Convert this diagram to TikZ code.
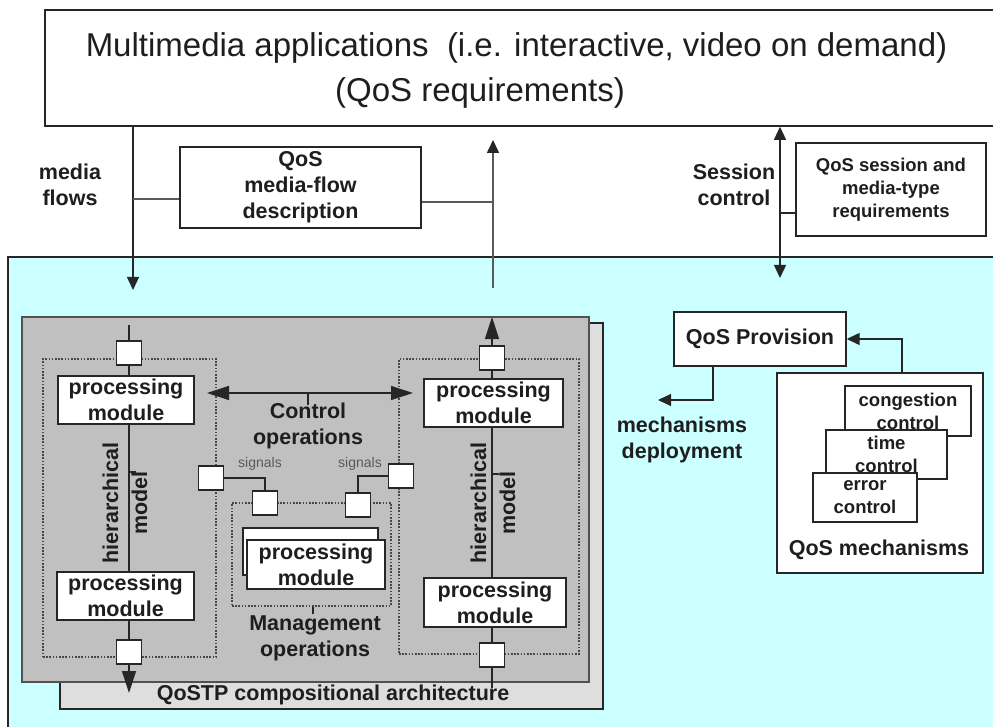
\documentclass[tikz,border=0pt]{standalone}
\usepackage{fontspec}
\setmainfont{Liberation Sans}
\usetikzlibrary{arrows.meta}
\definecolor{cyanbg}{HTML}{CCFFFF}
\definecolor{grayfront}{HTML}{C0C0C0}
\definecolor{grayback}{HTML}{DEDEDE}
\definecolor{linec}{HTML}{262626}
\definecolor{connc}{HTML}{5A5A5A}
\definecolor{textc}{HTML}{1E1E1E}
\newcommand{\bigbold}{\fontsize{21.5}{26}\selectfont\bfseries}
\newcommand{\midbold}{\fontsize{18.5}{23}\selectfont\bfseries}
\begin{document}
\begin{tikzpicture}[x=1pt,y=-1pt,
  box/.style={draw=linec, line width=1.4pt, fill=white, inner sep=0pt, align=center, text=textc, font=\bigbold},
  sbox/.style={box, font=\midbold},
  port/.style={draw=linec, line width=1.3pt, fill=white, minimum width=25pt, minimum height=24pt, inner sep=0pt},
  conn/.style={draw=linec, line width=1.3pt},
  gconn/.style={draw=connc, line width=2.2pt},
  dotbox/.style={draw=linec!85, line width=1.4pt, dash pattern=on 1.6pt off 1.6pt},
  lbl/.style={align=center, text=textc, font=\bigbold, inner sep=0pt},
  bigtip/.style={-{Triangle[width=14pt,length=22pt]}},
  smtip/.style={-{Triangle[width=12pt,length=13pt]}},
  dbltip/.style={{Triangle[width=12pt,length=13pt]}-{Triangle[width=12pt,length=13pt]}},
  bigdbl/.style={{Triangle[width=14pt,length=22pt]}-{Triangle[width=14pt,length=22pt]}}
]
\useasboundingbox (0,0) rectangle (993,727);
\clip (0,0) rectangle (993,727);
\fill[white] (0,0) rectangle (993,727);

% environment (cyan) and application box
\node[draw=linec, line width=1.6pt, fill=cyanbg, minimum width=992pt, minimum height=483pt, inner sep=0pt] (env) at (504,498.5) {};
\node[draw=linec, line width=1.6pt, fill=white, minimum width=955pt, minimum height=116pt, inner sep=0pt] (app) at (522.5,68) {};
\node[anchor=base, inner sep=0pt, text=textc, font=\fontsize{33}{40}\selectfont] (title1) at (516.5,57) {Multimedia applications\ \ (i.e. interactive, video on demand)};
\node[anchor=base, inner sep=0pt, text=textc, font=\fontsize{33}{40}\selectfont] (title2) at (480,102) {(QoS requirements)};

% media flows
\node[box, minimum width=241pt, minimum height=81pt] (mfdesc) at (300.5,187.5) {QoS\\media-flow\\description};
\node[lbl] (mflbl) at (70,185) {media\\flows};
\coordinate (mfend) at (133,290);
\coordinate (mfj) at (133,199);
\draw[conn, smtip] (app.south -| mfend) -- (mfend);
\draw[gconn] (mfj) -- (mfj -| mfdesc.west);
\coordinate (upbot) at (493,288);
\coordinate (uptip) at (493,140);
\coordinate (upj) at (493,202);
\draw[gconn, line width=1.6pt, -{Triangle[width=12pt,length=13pt,color=linec,fill=linec]}] (upbot) -- (uptip);
\draw[gconn] (upj -| mfdesc.east) -- (upj);

% session control
\node[sbox, minimum width=190pt, minimum height=93pt] (sesreq) at (891,189.5) {QoS session and\\media-type\\requirements};
\node[lbl] (seslbl) at (734,185) {Session\\control};
\coordinate (sesbot) at (780,278);
\coordinate (sesj) at (780,213);
\draw[conn, dbltip] (app.south -| sesbot) -- (sesbot);
\draw[conn] (sesj) -- (sesj -| sesreq.west);

% architecture
\node[draw=linec, line width=1.4pt, fill=grayback, minimum width=543pt, minimum height=386pt, inner sep=0pt] (archback) at (331.5,516) {};
\node[draw=linec!80, line width=1.4pt, fill=grayfront, minimum width=567pt, minimum height=365pt, inner sep=0pt] (archfront) at (305.5,499.5) {};
\node[lbl] (archlbl) at (333,695) {QoSTP compositional architecture};

% dotted groups
\node[dotbox, minimum width=173pt, minimum height=298pt, inner sep=0pt] (lgrp) at (129.5,508) {};
\node[dotbox, minimum width=180pt, minimum height=295pt, inner sep=0pt] (rgrp) at (489,506.5) {};
\node[dotbox, minimum width=159pt, minimum height=103pt, inner sep=0pt] (mgrp) at (311.5,554.5) {};

% left column
\coordinate (lctop) at (129,325);
\coordinate (lcbot) at (129,693);
\draw[conn, bigtip] (lctop) -- (lcbot);
\node[box, minimum width=136pt, minimum height=48pt] (pmL1) at (126,400) {processing\\module};
\node[box, minimum width=137pt, minimum height=48pt] (pmL2) at (125.5,596) {processing\\module};
\node[port] (pL1) at (129,353) {};
\node[port] (pL2) at (129,652) {};
\coordinate (hlL) at (136,472);
\draw[conn] (hlL -| lctop) -- (hlL);
\node[lbl, rotate=90, font=\fontsize{21.5}{29}\selectfont\bfseries] (hierL) at (125,503) {hierarchical\\model};

% right column
\coordinate (rcbot) at (492,688);
\coordinate (rctop) at (492,317);
\draw[conn, bigtip] (rcbot) -- (rctop);
\node[box, minimum width=139pt, minimum height=48pt] (pmR1) at (493.5,403) {processing\\module};
\node[box, minimum width=142pt, minimum height=49pt] (pmR2) at (495,602.5) {processing\\module};
\node[port] (pR1) at (492,358) {};
\node[port] (pR2) at (492,655) {};
\coordinate (hlR) at (499,474);
\draw[conn] (hlR -| rctop) -- (hlR);
\node[lbl, rotate=90, font=\fontsize{21.5}{29}\selectfont\bfseries] (hierR) at (493,503) {hierarchical\\model};

% control operations
\coordinate (ctlL) at (207,393);
\coordinate (ctlR) at (413,393);
\coordinate (ctlT) at (308,405);
\draw[conn, bigdbl] (ctlL) -- (ctlR);
\draw[conn] (ctlT |- ctlL) -- (ctlT);
\node[lbl] (ctllbl) at (308,426) {Control\\operations};

% management
\node[box, minimum width=135pt, minimum height=47pt] (pmMb) at (310.5,551.5) {};
\node[box, minimum width=138pt, minimum height=49pt] (pmM) at (316,564.5) {processing\\module};
\node[port] (sL1) at (211,478) {};
\node[port] (sL2) at (265,503) {};
\node[port] (sR1) at (401,476) {};
\node[port] (sR2) at (358,505) {};
\draw[conn] (sL1.east) -| (sL2.north);
\draw[conn] (sR1.west) -| (sR2.north);
\node[inner sep=0pt, text=connc, font=\fontsize{14}{16}\selectfont] (sigL) at (260,464) {signals};
\node[inner sep=0pt, text=connc, font=\fontsize{14}{16}\selectfont] (sigR) at (360,464) {signals};
\coordinate (mgT) at (313,614);
\draw[conn] (mgT |- mgrp.south) -- (mgT);
\node[lbl] (mglbl) at (315,638) {Management\\operations};

% QoS provision / mechanisms
\node[box, minimum width=172pt, minimum height=54pt] (prov) at (760,339) {QoS Provision};
\node[box, minimum width=206pt, minimum height=200pt] (mech) at (880,473) {};
\node[sbox, minimum width=126pt, minimum height=50pt] (cong) at (908,411) {congestion\\control};
\node[sbox, minimum width=121pt, minimum height=49pt] (timec) at (886.5,454.5) {time\\control};
\node[sbox, minimum width=104pt, minimum height=49pt] (errc) at (865,497.5) {error\\control};
\node[lbl] (mechlbl) at (879,550) {QoS mechanisms};
\coordinate (mechup) at (902,373);
\draw[conn, smtip] (mechup) |- (prov.east);
\coordinate (provdn) at (713,366);
\coordinate (depl) at (658,400);
\draw[conn, smtip] (provdn) |- (depl);
\node[lbl] (depllbl) at (682,440) {mechanisms\\deployment};
\end{tikzpicture}
\end{document}
